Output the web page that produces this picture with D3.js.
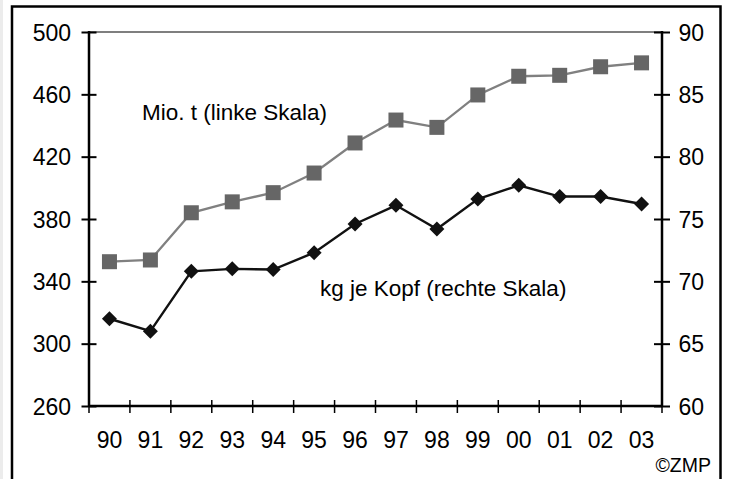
<!DOCTYPE html>
<html><head><meta charset="utf-8">
<script src="https://cdn.jsdelivr.net/npm/d3@7"></script>
<style>html,body{margin:0;padding:0;background:#fff;}svg{display:block;}</style>
</head><body>
<svg id="chart" width="730" height="479"></svg>
<script>
const categories = ["90","91","92","93","94","95","96","97","98","99","00","01","02","03"];
const mioT = [352.6,353.7,384,391,396.9,409.5,428.8,443.5,438.8,459.6,471.6,472.2,477.7,480.2];
const kgKopf = [67.0,66.0,70.8,71.0,70.95,72.3,74.6,76.1,74.2,76.6,77.7,76.8,76.8,76.2];
const leftTicks = [260,300,340,380,420,460,500];
const rightTicks = [60,65,70,75,80,85,90];
const labelLeft = "Mio. t (linke Skala)";
const labelRight = "kg je Kopf (rechte Skala)";
const credit = "©ZMP";

const svg = d3.select("#chart");
const font = "'Liberation Sans', Arial, sans-serif";
const X0 = 89, X1 = 662, Y0 = 406, Y1 = 32;

svg.append("rect").attr("x",0).attr("y",0).attr("width",730).attr("height",479).attr("fill","#fff");
svg.append("rect").attr("x",0).attr("y",0).attr("width",3).attr("height",479).attr("fill","#ececec");
svg.append("rect").attr("x",12).attr("y",6.5).attr("width",708.5).attr("height",500)
  .attr("fill","none").attr("stroke","#000").attr("stroke-width",2.5);

const x = d3.scaleBand().domain(categories).range([X0, X1]);
const yL = d3.scaleLinear().domain([260,500]).range([Y0, Y1]);
const yR = d3.scaleLinear().domain([60,90]).range([Y0, Y1]);

// top frame line
svg.append("line").attr("x1",X0).attr("x2",X1).attr("y1",yL(500)).attr("y2",yL(500))
  .attr("stroke","#000").attr("stroke-width",1.2);

// left axis
const gL = svg.append("g").attr("transform",`translate(${X0},0)`)
  .call(d3.axisLeft(yL).tickValues(leftTicks).tickSize(7.5).tickFormat(d3.format("d")));
gL.select(".domain").remove();
gL.selectAll(".tick line").attr("x1",-7.5).attr("x2",7.5).attr("stroke","#000").attr("stroke-width",2);
gL.selectAll(".tick text").attr("font-family",font).attr("font-size",23).attr("fill","#000").attr("dy","0.36em").attr("x",-18);
svg.append("line").attr("x1",X0).attr("x2",X0).attr("y1",Y1-1).attr("y2",Y0+1).attr("stroke","#000").attr("stroke-width",2.5);

// right axis
const gR = svg.append("g").attr("transform",`translate(${X1},0)`)
  .call(d3.axisRight(yR).tickValues(rightTicks).tickSize(8).tickFormat(d3.format("d")));
gR.select(".domain").remove();
gR.selectAll(".tick line").attr("x1",-8).attr("x2",8).attr("stroke","#000").attr("stroke-width",2);
gR.selectAll(".tick text").attr("font-family",font).attr("font-size",23).attr("fill","#000").attr("dy","0.36em").attr("x",16.5);
svg.append("line").attr("x1",X1).attr("x2",X1).attr("y1",Y1-1).attr("y2",Y0+1).attr("stroke","#000").attr("stroke-width",2.5);

// bottom axis
const gB = svg.append("g").attr("transform",`translate(0,${Y0})`)
  .call(d3.axisBottom(x).tickSize(0).tickPadding(0));
gB.select(".domain").remove();
gB.selectAll(".tick text").attr("font-family",font).attr("font-size",23).attr("fill","#000").attr("y",41.5).attr("dy",0);
const boundaries = categories.map(c => x(c)).concat([x(categories[categories.length-1]) + x.bandwidth()]);
svg.append("g").selectAll("line").data(boundaries).join("line")
  .attr("x1",d=>d).attr("x2",d=>d).attr("y1",Y0-6).attr("y2",Y0+7)
  .attr("stroke","#000").attr("stroke-width",1.5);
svg.append("line").attr("x1",X0).attr("x2",X1).attr("y1",Y0).attr("y2",Y0).attr("stroke","#000").attr("stroke-width",2.5);

const cx = c => x(c) + x.bandwidth()/2;

// gray series
const lineL = d3.line().x((d,i)=>cx(categories[i])).y(d=>yL(d));
svg.append("path").datum(mioT).attr("d",lineL).attr("fill","none").attr("stroke","#808080").attr("stroke-width",2.3);
svg.append("g").selectAll("rect").data(mioT).join("rect")
  .attr("x",(d,i)=>cx(categories[i])-7.5).attr("y",d=>yL(d)-7.5)
  .attr("width",15).attr("height",15).attr("fill","#666");

// black series
const lineR = d3.line().x((d,i)=>cx(categories[i])).y(d=>yR(d));
svg.append("path").datum(kgKopf).attr("d",lineR).attr("fill","none").attr("stroke","#111").attr("stroke-width",2.4);
svg.append("g").selectAll("path.dia").data(kgKopf).join("path").attr("class","dia")
  .attr("transform",(d,i)=>`translate(${cx(categories[i])},${yR(d)})`)
  .attr("d","M0,-7.5L7.5,0L0,7.5L-7.5,0Z").attr("fill","#111");

// annotations
svg.append("text").attr("x",142).attr("y",120).attr("font-family",font).attr("font-size",22.5).text(labelLeft);
svg.append("text").attr("x",320).attr("y",296).attr("font-family",font).attr("font-size",22.5).text(labelRight);
svg.append("text").attr("x",711).attr("y",471.5).attr("text-anchor","end").attr("font-family",font).attr("font-size",19.5).text(credit);
</script>
</body></html>
